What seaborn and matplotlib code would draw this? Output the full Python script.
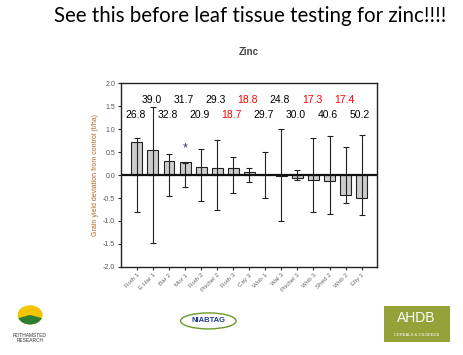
import matplotlib
matplotlib.use('Agg')
import matplotlib.pyplot as plt
import matplotlib.patches as mpatches
import numpy as np
import pandas as pd
import seaborn as sns

# site labels and grain yield deviation from control (t/ha)
sites = ['Roth 1', 'E Har 1', 'Bar 2', 'Mor 1', 'Roth 2', 'Pitchel 2', 'Roth 3', 'Cay 3',
         'Wob 1', 'Wal 3', 'Pitchel 3', 'Wob 3', 'Shed 2', 'Wob 2', 'Elty 1']
deviation = [0.71, 0.54, 0.31, 0.28, 0.17, 0.15, 0.15, 0.07,
             -0.01, -0.03, -0.07, -0.11, -0.13, -0.43, -0.51]
# error bars are drawn around zero
lsd = [0.80, 1.47, 0.45, 0.27, 0.56, 0.77, 0.40, 0.16,
       0.50, 1.01, 0.11, 0.80, 0.84, 0.61, 0.86]
# leaf zinc values written above the bars (red = low)
leaf_zn = [26.8, 39.0, 32.8, 31.7, 20.9, 29.3, 18.7, 18.8,
           29.7, 24.8, 30.0, 17.3, 40.6, 17.4, 50.2]
leaf_low = [False, False, False, False, False, False, True, True,
            False, False, False, True, False, True, False]
significant = ['Mor 1']

df = pd.DataFrame({'site': sites, 'dev': deviation})

sns.set_style('white')
plt.rcParams['font.family'] = ['Liberation Sans', 'DejaVu Sans']

fig = plt.figure(figsize=(4.63, 3.55), dpi=100)
ax = fig.add_axes([0.261, 0.248, 0.553, 0.518])

sns.barplot(data=df, x='site', y='dev', color='#cccccc', edgecolor='#222222',
            linewidth=0.8, width=0.68, saturation=1, ax=ax)
x = np.arange(len(sites))
ax.errorbar(x, np.zeros(len(sites)), yerr=lsd, fmt='none', ecolor='#222222',
            elinewidth=0.8, capsize=2.5, capthick=0.8)
ax.axhline(0, color='#111111', linewidth=1.6)

for i, s in enumerate(sites):
    if s in significant:
        ax.text(i, deviation[i] + 0.3, '*', ha='center', va='center',
                fontsize=9, color='#333366')

for i, v in enumerate(leaf_zn):
    y = 1.30 if i % 2 == 0 else 1.63
    c = 'red' if leaf_low[i] else 'black'
    ax.text(i - 0.1, y, f'{v:.1f}', ha='center', va='center', fontsize=7.5, color=c)

ax.set_xlim(-1.0, 14.95)
ax.set_ylim(-2.0, 2.0)
ticks = np.arange(-2.0, 2.01, 0.5)
ax.set_yticks(ticks)
ax.set_yticklabels([f'{t:.1f}' for t in ticks], fontsize=5, color='#555555')
ax.set_xticks(x)
ax.set_xticklabels(sites, rotation=45, ha='right', fontsize=4.5, color='#666666',
                   rotation_mode='anchor')
ax.tick_params(axis='both', direction='out', length=2.5, width=0.8, bottom=True, left=True, pad=1.5)
ax.set_xlabel('')
ax.set_ylabel('Grain yield deviation from control (t/ha)', fontsize=5, color='#b5651d', labelpad=3)
for sp in ax.spines.values():
    sp.set_linewidth(1.0)
    sp.set_color('#222222')

ax.set_title('Zinc', fontsize=7, color='#444444', fontweight='bold', pad=20)

fig.text(0.54, 0.955, 'See this before leaf tissue testing for zinc!!!!', ha='center', va='center',
         fontsize=14.8, family=['Lato', 'DejaVu Sans'], color='black')

# logos along the bottom
fig.patches.append(mpatches.Circle((0.065, 0.113), 0.027, transform=fig.transFigure,
                                   facecolor='#f2c500', edgecolor='none'))
fig.patches.append(mpatches.Wedge((0.065, 0.113), 0.027, 200, 340, transform=fig.transFigure,
                                  facecolor='#2e7d32', edgecolor='none'))
fig.text(0.065, 0.048, 'ROTHAMSTED\nRESEARCH', ha='center', va='center', fontsize=3.5,
         color='#333333', linespacing=1.0)
fig.patches.append(mpatches.Ellipse((0.45, 0.096), 0.12, 0.045, transform=fig.transFigure,
                                    facecolor='white', edgecolor='#6a9a2a', linewidth=1.0))
fig.text(0.45, 0.096, 'NIABTAG', ha='center', va='center', fontsize=5.5, color='#1f3f8f',
         fontweight='bold')
fig.patches.append(mpatches.Rectangle((0.83, 0.037), 0.143, 0.1, transform=fig.transFigure,
                                      facecolor='#93a33a', edgecolor='none'))
fig.text(0.9, 0.103, 'AHDB', ha='center', va='center', fontsize=10, color='white')
fig.text(0.9, 0.055, 'CEREALS & OILSEEDS', ha='center', va='center', fontsize=3, color='white')

fig.savefig('out.png', dpi=100)
